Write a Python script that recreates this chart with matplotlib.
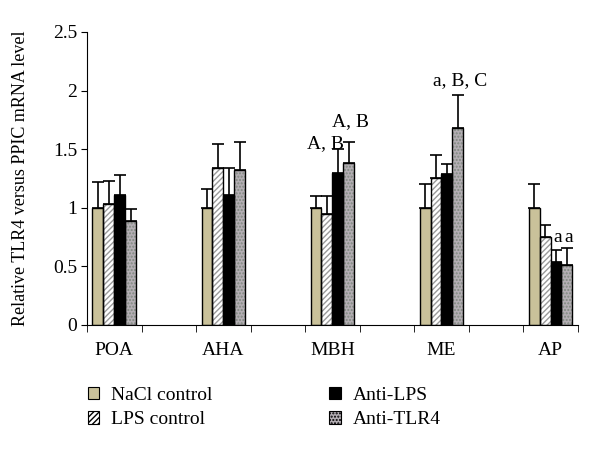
import numpy as np
import matplotlib.pyplot as plt
from matplotlib.patches import Patch

plt.rcParams['font.family'] = ['Liberation Serif', 'DejaVu Serif']
plt.rcParams['font.size'] = 14

# data
regions = ["POA", "AHA", "MBH", "ME", "AP"]
groups = ["NaCl control", "LPS control", "Anti-LPS", "Anti-TLR4"]
nacl = [1.00, 1.00, 1.00, 1.00, 1.00]
nacl_err = [0.22, 0.16, 0.10, 0.20, 0.20]
lps = [1.03, 1.34, 0.95, 1.25, 0.75]
lps_err = [0.20, 0.20, 0.15, 0.20, 0.10]
anti_lps = [1.11, 1.11, 1.30, 1.29, 0.54]
anti_lps_err = [0.17, 0.23, 0.20, 0.08, 0.10]
anti_tlr4 = [0.89, 1.32, 1.38, 1.68, 0.51]
anti_tlr4_err = [0.10, 0.24, 0.18, 0.28, 0.15]

# significance letters: region index, group index, text, nudge (x, y)
marks = [(2, 2, "A, B", -0.22, 0.01),
         (2, 3, "A, B", 0.04, 0.14),
         (3, 3, "a, B, C", 0.05, 0.09),
         (4, 2, "a", 0.04, 0.07),
         (4, 3, "a", 0.04, 0.05)]

values = [nacl, lps, anti_lps, anti_tlr4]
errors = [nacl_err, lps_err, anti_lps_err, anti_tlr4_err]
faces = ["#c9c19a", "white", "black", "#b4aeb4"]
hatches = [None, "//////", None, "....."]
hatch_cols = ["#c9c19a", "#9a9a9a", "black", "#7f8a7f"]

fig = plt.figure(figsize=(6, 4.5), dpi=100)
ax = fig.add_axes([0.145, 0.278, 0.818, 0.651])

x = np.arange(len(regions)) * 2
w = 0.2
for i in range(4):
    xs = x - 0.3 + i * w
    # fill + pattern, then a black outline on top
    ax.bar(xs, values[i], w, color=faces[i], hatch=hatches[i],
           edgecolor=hatch_cols[i], linewidth=0, zorder=2)
    ax.bar(xs, values[i], w, fill=False, edgecolor="black", linewidth=1.0, zorder=3)
    ax.errorbar(xs, values[i], yerr=[np.zeros(5), errors[i]], fmt="none",
                ecolor="black", elinewidth=1.2, capsize=4, capthick=1.2, zorder=1)

for r, g, txt, dx, dy in marks:
    xs = x[r] - 0.3 + g * w
    top = values[g][r] + errors[g][r]
    ax.text(xs + dx, top + dy, txt, ha="center", va="baseline", fontsize=14)

ax.set_xlim(-0.5, 8.5)
ax.set_ylim(0, 2.5)
ax.set_yticks([0, 0.5, 1, 1.5, 2, 2.5])
ax.set_yticklabels(["0", "0.5", "1", "1.5", "2", "2.5"])
ax.set_xticks(x)
ax.set_xticklabels(regions)
ax.set_xticks(np.arange(-0.5, 9, 1), minor=True)
ax.tick_params(axis="x", which="major", length=0, pad=12)
ax.tick_params(axis="x", which="minor", length=5, direction="out")
ax.tick_params(axis="y", length=4, direction="out", pad=3)
ax.spines["top"].set_visible(False)
ax.spines["right"].set_visible(False)
ax.set_ylabel("Relative TLR4 versus PPIC mRNA level", fontsize=13, labelpad=17)

handles = [Patch(facecolor=faces[i], edgecolor="black", hatch=hatches[i], linewidth=0.8)
           for i in range(4)]
fig.legend(handles, groups, ncol=2, loc="upper left", bbox_to_anchor=(0.117, 0.18),
           frameon=False, handlelength=0.6, handleheight=0.6, handletextpad=0.6,
           columnspacing=6.0, labelspacing=0.4, fontsize=14)

fig.savefig("out.png", dpi=100)
